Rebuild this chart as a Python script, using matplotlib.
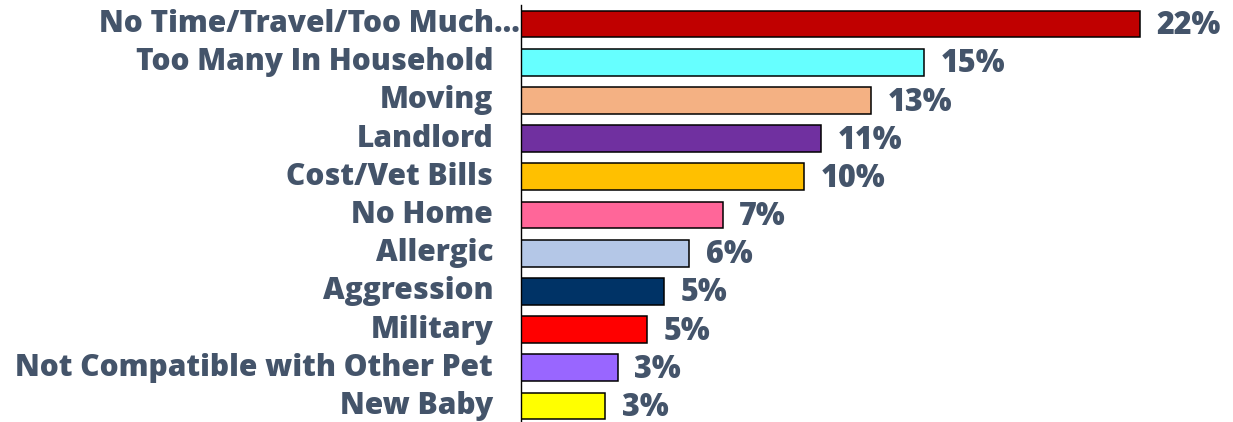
import matplotlib.pyplot as plt
from matplotlib.transforms import offset_copy, blended_transform_factory

# reasons for giving up a pet, share of responses
reasons = ['No Time/Travel/Too Much\u2026', 'Too Many In Household', 'Moving', 'Landlord',
           'Cost/Vet Bills', 'No Home', 'Allergic', 'Aggression', 'Military',
           'Not Compatible with Other Pet', 'New Baby']
shares = [22.1, 14.4, 12.5, 10.7, 10.1, 7.2, 6.0, 5.1, 4.5, 3.45, 3.0]
share_labels = ['22%', '15%', '13%', '11%', '10%', '7%', '6%', '5%', '5%', '3%', '3%']
colors = ['#C00000', '#66FFFF', '#F4B183', '#7030A0', '#FFC000', '#FF6699',
          '#B4C7E7', '#003366', '#FF0000', '#9966FF', '#FFFF00']

text_color = '#44546A'
plt.rcParams['font.family'] = ['Open Sans', 'DejaVu Sans']

fig = plt.figure(figsize=(12.33, 4.22), dpi=100)
ax = fig.add_axes([521 / 1233, -3 / 422, 700 / 1233, 420 / 422])

pos = list(range(len(reasons)))
ax.barh(pos, shares, height=0.7, color=colors, edgecolor='black', linewidth=1.1)
ax.set_ylim(len(reasons) - 0.5, -0.5)
ax.set_xlim(0, 25)

for s in ['top', 'right', 'bottom']:
    ax.spines[s].set_visible(False)
ax.spines['left'].set_linewidth(1.0)
ax.set_xticks([])
ax.set_yticks([])

# category labels on the left
trans = blended_transform_factory(ax.transAxes, ax.transData)
for i, name in enumerate(reasons):
    dx = -1 if i == 0 else -20
    t = offset_copy(trans, fig=fig, x=dx, y=0, units='points')
    ax.text(0, i, name, transform=t, ha='right', va='center',
            fontsize=21.5, fontweight='heavy', color=text_color)

# value labels
for i, (v, lab) in enumerate(zip(shares, share_labels)):
    t = offset_copy(ax.transData, fig=fig, x=12, y=-1.5, units='points')
    ax.text(v, i, lab, transform=t, ha='left', va='center',
            fontsize=22, fontweight='heavy', color=text_color)

fig.savefig('out.png', dpi=100)
